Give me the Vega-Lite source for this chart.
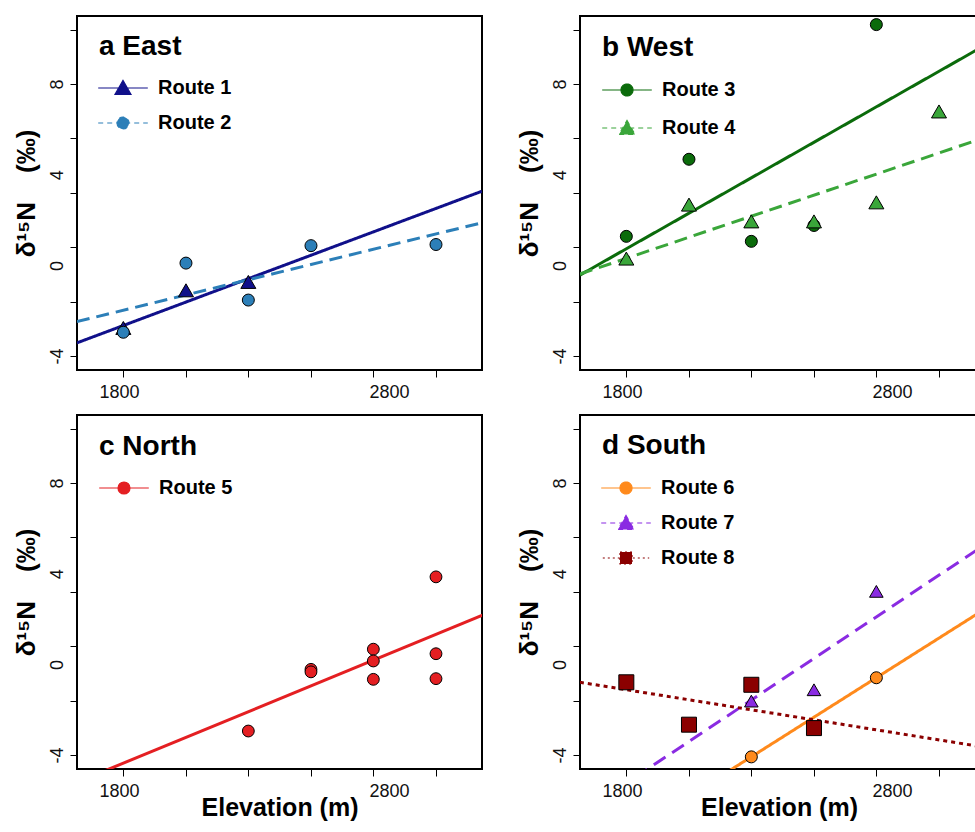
{
  "$schema": "https://vega.github.io/schema/vega-lite/v6.json",
  "padding": {"left": 11, "top": 15, "right": 0, "bottom": 2},
  "datasets": {
    "points": [
      {"panel": "a", "route": "Route 1", "elev": 1816, "d15N": -2.76},
      {"panel": "a", "route": "Route 1", "elev": 2048, "d15N": -1.1},
      {"panel": "a", "route": "Route 1", "elev": 2279, "d15N": -0.73},
      {"panel": "a", "route": "Route 2", "elev": 1816, "d15N": -2.95},
      {"panel": "a", "route": "Route 2", "elev": 2048, "d15N": 0.1},
      {"panel": "a", "route": "Route 2", "elev": 2279, "d15N": -1.53},
      {"panel": "a", "route": "Route 2", "elev": 2511, "d15N": 0.87},
      {"panel": "a", "route": "Route 2", "elev": 2974, "d15N": 0.92},
      {"panel": "b", "route": "Route 3", "elev": 1816, "d15N": 1.28},
      {"panel": "b", "route": "Route 3", "elev": 2048, "d15N": 4.68},
      {"panel": "b", "route": "Route 3", "elev": 2279, "d15N": 1.06},
      {"panel": "b", "route": "Route 3", "elev": 2511, "d15N": 1.76},
      {"panel": "b", "route": "Route 3", "elev": 2742, "d15N": 10.62},
      {"panel": "b", "route": "Route 4", "elev": 1816, "d15N": 0.3},
      {"panel": "b", "route": "Route 4", "elev": 2048, "d15N": 2.68},
      {"panel": "b", "route": "Route 4", "elev": 2279, "d15N": 1.94},
      {"panel": "b", "route": "Route 4", "elev": 2511, "d15N": 1.94},
      {"panel": "b", "route": "Route 4", "elev": 2742, "d15N": 2.78},
      {"panel": "b", "route": "Route 4", "elev": 2974, "d15N": 6.79},
      {"panel": "c", "route": "Route 5", "elev": 2279, "d15N": -2.94},
      {"panel": "c", "route": "Route 5", "elev": 2511, "d15N": -0.22},
      {"panel": "c", "route": "Route 5", "elev": 2511, "d15N": -0.33},
      {"panel": "c", "route": "Route 5", "elev": 2742, "d15N": 0.67},
      {"panel": "c", "route": "Route 5", "elev": 2742, "d15N": 0.15},
      {"panel": "c", "route": "Route 5", "elev": 2742, "d15N": -0.66},
      {"panel": "c", "route": "Route 5", "elev": 2974, "d15N": 3.86},
      {"panel": "c", "route": "Route 5", "elev": 2974, "d15N": 0.47},
      {"panel": "c", "route": "Route 5", "elev": 2974, "d15N": -0.63},
      {"panel": "d", "route": "Route 6", "elev": 2279, "d15N": -4.08},
      {"panel": "d", "route": "Route 6", "elev": 2742, "d15N": -0.59},
      {"panel": "d", "route": "Route 7", "elev": 2048, "d15N": -2.69},
      {"panel": "d", "route": "Route 7", "elev": 2279, "d15N": -1.62},
      {"panel": "d", "route": "Route 7", "elev": 2511, "d15N": -1.12},
      {"panel": "d", "route": "Route 7", "elev": 2742, "d15N": 3.22},
      {"panel": "d", "route": "Route 8", "elev": 1816, "d15N": -0.79},
      {"panel": "d", "route": "Route 8", "elev": 2048, "d15N": -2.66},
      {"panel": "d", "route": "Route 8", "elev": 2279, "d15N": -0.9},
      {"panel": "d", "route": "Route 8", "elev": 2511, "d15N": -2.81}
    ],
    "lines": [
      {"panel": "a", "route": "Route 1", "elev": 1644, "d15N": -3.42},
      {"panel": "a", "route": "Route 1", "elev": 3144, "d15N": 3.27},
      {"panel": "a", "route": "Route 2", "elev": 1644, "d15N": -2.48},
      {"panel": "a", "route": "Route 2", "elev": 3144, "d15N": 1.88},
      {"panel": "b", "route": "Route 3", "elev": 1644, "d15N": -0.43},
      {"panel": "b", "route": "Route 3", "elev": 3122, "d15N": 9.56},
      {"panel": "b", "route": "Route 4", "elev": 1644, "d15N": -0.38},
      {"panel": "b", "route": "Route 4", "elev": 3122, "d15N": 5.55},
      {"panel": "c", "route": "Route 5", "elev": 1644, "d15N": -5.2},
      {"panel": "c", "route": "Route 5", "elev": 3147, "d15N": 2.17},
      {"panel": "d", "route": "Route 6", "elev": 2150, "d15N": -5.05},
      {"panel": "d", "route": "Route 6", "elev": 3120, "d15N": 2.26},
      {"panel": "d", "route": "Route 7", "elev": 1850, "d15N": -4.97},
      {"panel": "d", "route": "Route 7", "elev": 3120, "d15N": 5.09},
      {"panel": "d", "route": "Route 8", "elev": 1644, "d15N": -0.79},
      {"panel": "d", "route": "Route 8", "elev": 3120, "d15N": -3.61}
    ]
  },
  "columns": 2,
  "spacing": {"row": 12, "column": 31},
  "resolve": {
    "scale": {"x": "independent", "y": "independent", "color": "independent", "fill": "independent", "stroke": "independent", "shape": "independent", "strokeDash": "independent", "size": "independent"},
    "axis": {"x": "independent", "y": "independent"}
  },
  "concat": [
    {
      "width": 405, "height": 354,
      "title": {"text": "a East", "anchor": "start", "frame": "group", "offset": -67, "dx": 22, "fontSize": 28, "fontWeight": "bold", "color": "black", "baseline": "alphabetic"},
      "resolve": {"scale": {"shape": "independent", "strokeDash": "independent", "size": "independent", "fill": "independent", "stroke": "independent", "color": "independent"}},
      "encoding": {
        "x": {"field": "elev", "type": "quantitative", "scale": {"domain": [1644.4, 3144.4], "nice": false, "zero": false},
              "axis": {"title": null, "values": [1800, 1816, 2048, 2279, 2511, 2742, 2800, 2974], "labelExpr": "datum.value == 1800 ? '1800' : datum.value == 2800 ? '2800' : ''", "tickOpacity": {"condition": {"test": "datum.value == 1800 || datum.value == 2800", "value": 0}, "value": 1}}},
        "y": {"field": "d15N", "type": "quantitative", "scale": {"domain": [-4.615, 11.0], "nice": false, "zero": false},
              "axis": {"title": "δ¹⁵N\u00a0\u00a0\u00a0\u00a0(‰)", "values": [-4, -1.6, 0, 0.8, 3.2, 4, 5.6, 8, 10.4], "labelExpr": "datum.value == -4 ? '-4' : datum.value == 0 ? '0' : datum.value == 4 ? '4' : datum.value == 8 ? '8' : ''", "tickOpacity": {"condition": {"test": "datum.value == 0 || datum.value == 4", "value": 0}, "value": 1}}}
      },
      "layer": [
        {
          "data": {"name": "lines"},
          "transform": [{"filter": "datum.panel == 'a'"}],
          "mark": {"type": "line", "clip": true, "strokeWidth": 3},
          "encoding": {
            "color": {"field": "route", "type": "nominal", "scale": {"domain": ["Route 1", "Route 2"], "range": ["#10108a", "#2c7fb8"]}, "legend": null},
            "strokeDash": {"field": "route", "type": "nominal", "scale": {"domain": ["Route 1", "Route 2"], "range": [[1, 0], [13, 7]]}, "legend": null}
          }
        },
        {
          "data": {"name": "points"},
          "transform": [{"filter": "datum.panel == 'a'"}],
          "mark": {"type": "point", "filled": true, "stroke": "black", "strokeWidth": 1, "opacity": 1},
          "encoding": {
            "color": {"field": "route", "type": "nominal", "scale": {"domain": ["Route 1", "Route 2"], "range": ["#10108a", "#2c7fb8"]}, "legend": null},
            "shape": {"field": "route", "type": "nominal", "scale": {"domain": ["Route 1", "Route 2"], "range": ["triangle-up", "circle"]}, "legend": null},
            "size": {"field": "route", "type": "nominal", "scale": {"domain": ["Route 1", "Route 2"], "range": [225, 144]}, "legend": null}
          }
        },
        {
          "data": {"name": "points"},
          "transform": [{"filter": "false"}],
          "mark": {"type": "point", "filled": true, "strokeWidth": 1.2, "size": 256, "opacity": 1},
          "encoding": {
            "fill": {"field": "route", "type": "nominal", "scale": {"domain": ["Route 1", "Route 2"], "range": ["#10108a", "#2c7fb8"]},
              "legend": {"orient": "none", "legendX": 36, "legendY": 62, "title": null, "padding": 0, "symbolSize": 256, "symbolStrokeWidth": 1.2, "symbolOpacity": 1, "labelOffset": 25, "rowPadding": 15}},
            "stroke": {"field": "route", "type": "nominal", "scale": {"domain": ["Route 1", "Route 2"], "range": ["#10108a", "#2c7fb8"]},
              "legend": {"orient": "none", "legendX": 36, "legendY": 62, "title": null, "padding": 0, "symbolSize": 256, "symbolStrokeWidth": 1.2, "symbolOpacity": 1, "labelOffset": 25, "rowPadding": 15}},
            "shape": {"field": "route", "type": "nominal", "scale": {"domain": ["Route 1", "Route 2"], "range": ["M-3.1,0H3.1M0,-0.95L1,0.8L-1,0.8Z", "M-3.1,0H3.1M-0.75,0A0.75,0.75,0,1,0,0.75,0A0.75,0.75,0,1,0,-0.75,0Z"]},
              "legend": {"orient": "none", "legendX": 36, "legendY": 62, "title": null, "padding": 0, "symbolSize": 256, "symbolStrokeWidth": 1.2, "symbolOpacity": 1, "labelOffset": 25, "rowPadding": 15}},
            "strokeDash": {"field": "route", "type": "nominal", "scale": {"domain": ["Route 1", "Route 2"], "range": [[1, 0], [5, 4]]},
              "legend": {"orient": "none", "legendX": 36, "legendY": 62, "title": null, "padding": 0, "symbolSize": 256, "symbolStrokeWidth": 1.2, "symbolOpacity": 1, "labelOffset": 25, "rowPadding": 15}}
          }
        }
      ]
    },
    {
      "width": 398, "height": 354,
      "title": {"text": "b West", "anchor": "start", "frame": "group", "offset": -68, "dx": 22, "fontSize": 28, "fontWeight": "bold", "color": "black", "baseline": "alphabetic"},
      "resolve": {"scale": {"shape": "independent", "strokeDash": "independent", "size": "independent", "fill": "independent", "stroke": "independent", "color": "independent"}},
      "encoding": {
        "x": {"field": "elev", "type": "quantitative", "scale": {"domain": [1644.4, 3118.5], "nice": false, "zero": false},
              "axis": {"title": null, "values": [1800, 1816, 2048, 2279, 2511, 2742, 2800, 2974], "labelExpr": "datum.value == 1800 ? '1800' : datum.value == 2800 ? '2800' : ''", "tickOpacity": {"condition": {"test": "datum.value == 1800 || datum.value == 2800", "value": 0}, "value": 1}}},
        "y": {"field": "d15N", "type": "quantitative", "scale": {"domain": [-4.615, 11.0], "nice": false, "zero": false},
              "axis": {"title": "δ¹⁵N\u00a0\u00a0\u00a0\u00a0(‰)", "values": [-4, -1.6, 0, 0.8, 3.2, 4, 5.6, 8, 10.4], "labelExpr": "datum.value == -4 ? '-4' : datum.value == 0 ? '0' : datum.value == 4 ? '4' : datum.value == 8 ? '8' : ''", "tickOpacity": {"condition": {"test": "datum.value == 0 || datum.value == 4", "value": 0}, "value": 1}}}
      },
      "layer": [
        {
          "data": {"name": "lines"},
          "transform": [{"filter": "datum.panel == 'b'"}],
          "mark": {"type": "line", "clip": true, "strokeWidth": 3},
          "encoding": {
            "color": {"field": "route", "type": "nominal", "scale": {"domain": ["Route 3", "Route 4"], "range": ["#0b6b0b", "#3aa63a"]}, "legend": null},
            "strokeDash": {"field": "route", "type": "nominal", "scale": {"domain": ["Route 3", "Route 4"], "range": [[1, 0], [13, 7]]}, "legend": null}
          }
        },
        {
          "data": {"name": "points"},
          "transform": [{"filter": "datum.panel == 'b'"}],
          "mark": {"type": "point", "filled": true, "stroke": "black", "strokeWidth": 1, "opacity": 1},
          "encoding": {
            "color": {"field": "route", "type": "nominal", "scale": {"domain": ["Route 3", "Route 4"], "range": ["#0b6b0b", "#3aa63a"]}, "legend": null},
            "shape": {"field": "route", "type": "nominal", "scale": {"domain": ["Route 3", "Route 4"], "range": ["circle", "triangle-up"]}, "legend": null},
            "size": {"field": "route", "type": "nominal", "scale": {"domain": ["Route 3", "Route 4"], "range": [144, 225]}, "legend": null}
          }
        },
        {
          "data": {"name": "points"},
          "transform": [{"filter": "false"}],
          "mark": {"type": "point", "filled": true, "strokeWidth": 1.2, "size": 256, "opacity": 1},
          "encoding": {
            "fill": {"field": "route", "type": "nominal", "scale": {"domain": ["Route 3", "Route 4"], "range": ["#0b6b0b", "#3aa63a"]},
              "legend": {"orient": "none", "legendX": 37, "legendY": 64, "title": null, "padding": 0, "symbolSize": 256, "symbolStrokeWidth": 1.2, "symbolOpacity": 1, "labelOffset": 25, "rowPadding": 18}},
            "stroke": {"field": "route", "type": "nominal", "scale": {"domain": ["Route 3", "Route 4"], "range": ["#0b6b0b", "#3aa63a"]},
              "legend": {"orient": "none", "legendX": 37, "legendY": 64, "title": null, "padding": 0, "symbolSize": 256, "symbolStrokeWidth": 1.2, "symbolOpacity": 1, "labelOffset": 25, "rowPadding": 18}},
            "shape": {"field": "route", "type": "nominal", "scale": {"domain": ["Route 3", "Route 4"], "range": ["M-3.1,0H3.1M-0.75,0A0.75,0.75,0,1,0,0.75,0A0.75,0.75,0,1,0,-0.75,0Z", "M-3.1,0H3.1M0,-0.95L1,0.8L-1,0.8Z"]},
              "legend": {"orient": "none", "legendX": 37, "legendY": 64, "title": null, "padding": 0, "symbolSize": 256, "symbolStrokeWidth": 1.2, "symbolOpacity": 1, "labelOffset": 25, "rowPadding": 18}},
            "strokeDash": {"field": "route", "type": "nominal", "scale": {"domain": ["Route 3", "Route 4"], "range": [[1, 0], [5, 4]]},
              "legend": {"orient": "none", "legendX": 37, "legendY": 64, "title": null, "padding": 0, "symbolSize": 256, "symbolStrokeWidth": 1.2, "symbolOpacity": 1, "labelOffset": 25, "rowPadding": 18}}
          }
        }
      ]
    },
    {
      "width": 405, "height": 354,
      "title": {"text": "c North", "anchor": "start", "frame": "group", "offset": -68, "dx": 22, "fontSize": 28, "fontWeight": "bold", "color": "black", "baseline": "alphabetic"},
      "resolve": {"scale": {"shape": "independent", "strokeDash": "independent", "size": "independent", "fill": "independent", "stroke": "independent", "color": "independent"}},
      "encoding": {
        "x": {"field": "elev", "type": "quantitative", "scale": {"domain": [1644.4, 3144.4], "nice": false, "zero": false},
              "axis": {"title": "Elevation (m)", "values": [1800, 1816, 2048, 2279, 2511, 2742, 2800, 2974], "labelExpr": "datum.value == 1800 ? '1800' : datum.value == 2800 ? '2800' : ''", "tickOpacity": {"condition": {"test": "datum.value == 1800 || datum.value == 2800", "value": 0}, "value": 1}}},
        "y": {"field": "d15N", "type": "quantitative", "scale": {"domain": [-4.615, 11.0], "nice": false, "zero": false},
              "axis": {"title": "δ¹⁵N\u00a0\u00a0\u00a0\u00a0(‰)", "values": [-4, -1.6, 0, 0.8, 3.2, 4, 5.6, 8, 10.4], "labelExpr": "datum.value == -4 ? '-4' : datum.value == 0 ? '0' : datum.value == 4 ? '4' : datum.value == 8 ? '8' : ''", "tickOpacity": {"condition": {"test": "datum.value == 0 || datum.value == 4", "value": 0}, "value": 1}}}
      },
      "layer": [
        {
          "data": {"name": "lines"},
          "transform": [{"filter": "datum.panel == 'c'"}],
          "mark": {"type": "line", "clip": true, "strokeWidth": 3},
          "encoding": {
            "color": {"field": "route", "type": "nominal", "scale": {"domain": ["Route 5"], "range": ["#e41f22"]}, "legend": null}
          }
        },
        {
          "data": {"name": "points"},
          "transform": [{"filter": "datum.panel == 'c'"}],
          "mark": {"type": "point", "filled": true, "stroke": "black", "strokeWidth": 1, "opacity": 1, "shape": "circle", "size": 140},
          "encoding": {
            "color": {"field": "route", "type": "nominal", "scale": {"domain": ["Route 5"], "range": ["#e41f22"]}, "legend": null}
          }
        },
        {
          "data": {"name": "points"},
          "transform": [{"filter": "false"}],
          "mark": {"type": "point", "filled": true, "strokeWidth": 1.2, "size": 256, "opacity": 1},
          "encoding": {
            "fill": {"field": "route", "type": "nominal", "scale": {"domain": ["Route 5"], "range": ["#e41f22"]},
              "legend": {"orient": "none", "legendX": 37, "legendY": 63, "title": null, "padding": 0, "symbolSize": 256, "symbolStrokeWidth": 1.2, "symbolOpacity": 1, "labelOffset": 25, "rowPadding": 15}},
            "stroke": {"field": "route", "type": "nominal", "scale": {"domain": ["Route 5"], "range": ["#e41f22"]},
              "legend": {"orient": "none", "legendX": 37, "legendY": 63, "title": null, "padding": 0, "symbolSize": 256, "symbolStrokeWidth": 1.2, "symbolOpacity": 1, "labelOffset": 25, "rowPadding": 15}},
            "shape": {"field": "route", "type": "nominal", "scale": {"domain": ["Route 5"], "range": ["M-3.1,0H3.1M-0.75,0A0.75,0.75,0,1,0,0.75,0A0.75,0.75,0,1,0,-0.75,0Z"]},
              "legend": {"orient": "none", "legendX": 37, "legendY": 63, "title": null, "padding": 0, "symbolSize": 256, "symbolStrokeWidth": 1.2, "symbolOpacity": 1, "labelOffset": 25, "rowPadding": 15}}
          }
        }
      ]
    },
    {
      "width": 398, "height": 354,
      "title": {"text": "d South", "anchor": "start", "frame": "group", "offset": -67, "dx": 22, "fontSize": 28, "fontWeight": "bold", "color": "black", "baseline": "alphabetic"},
      "resolve": {"scale": {"shape": "independent", "strokeDash": "independent", "size": "independent", "fill": "independent", "stroke": "independent", "color": "independent"}},
      "encoding": {
        "x": {"field": "elev", "type": "quantitative", "scale": {"domain": [1644.4, 3118.5], "nice": false, "zero": false},
              "axis": {"title": "Elevation (m)", "values": [1800, 1816, 2048, 2279, 2511, 2742, 2800, 2974], "labelExpr": "datum.value == 1800 ? '1800' : datum.value == 2800 ? '2800' : ''", "tickOpacity": {"condition": {"test": "datum.value == 1800 || datum.value == 2800", "value": 0}, "value": 1}}},
        "y": {"field": "d15N", "type": "quantitative", "scale": {"domain": [-4.615, 11.0], "nice": false, "zero": false},
              "axis": {"title": "δ¹⁵N\u00a0\u00a0\u00a0\u00a0(‰)", "values": [-4, -1.6, 0, 0.8, 3.2, 4, 5.6, 8, 10.4], "labelExpr": "datum.value == -4 ? '-4' : datum.value == 0 ? '0' : datum.value == 4 ? '4' : datum.value == 8 ? '8' : ''", "tickOpacity": {"condition": {"test": "datum.value == 0 || datum.value == 4", "value": 0}, "value": 1}}}
      },
      "layer": [
        {
          "data": {"name": "lines"},
          "transform": [{"filter": "datum.panel == 'd'"}],
          "mark": {"type": "line", "clip": true, "strokeWidth": 3},
          "encoding": {
            "color": {"field": "route", "type": "nominal", "scale": {"domain": ["Route 6", "Route 7", "Route 8"], "range": ["#ff8a1c", "#8a2be2", "#8b0000"]}, "legend": null},
            "strokeDash": {"field": "route", "type": "nominal", "scale": {"domain": ["Route 6", "Route 7", "Route 8"], "range": [[1, 0], [14, 8], [4, 4]]}, "legend": null}
          }
        },
        {
          "data": {"name": "points"},
          "transform": [{"filter": "datum.panel == 'd'"}],
          "mark": {"type": "point", "filled": true, "stroke": "black", "strokeWidth": 1, "opacity": 1},
          "encoding": {
            "color": {"field": "route", "type": "nominal", "scale": {"domain": ["Route 6", "Route 7", "Route 8"], "range": ["#ff8a1c", "#8a2be2", "#8b0000"]}, "legend": null},
            "shape": {"field": "route", "type": "nominal", "scale": {"domain": ["Route 6", "Route 7", "Route 8"], "range": ["circle", "triangle-up", "square"]}, "legend": null},
            "size": {"field": "route", "type": "nominal", "scale": {"domain": ["Route 6", "Route 7", "Route 8"], "range": [144, 225, 121]}, "legend": null}
          }
        },
        {
          "data": {"name": "points"},
          "transform": [{"filter": "false"}],
          "mark": {"type": "point", "filled": true, "strokeWidth": 1.2, "size": 256, "opacity": 1},
          "encoding": {
            "fill": {"field": "route", "type": "nominal", "scale": {"domain": ["Route 6", "Route 7", "Route 8"], "range": ["#ff8a1c", "#8a2be2", "#8b0000"]},
              "legend": {"orient": "none", "legendX": 36, "legendY": 63, "title": null, "padding": 0, "symbolSize": 256, "symbolStrokeWidth": 1.2, "symbolOpacity": 1, "labelOffset": 25, "rowPadding": 15}},
            "stroke": {"field": "route", "type": "nominal", "scale": {"domain": ["Route 6", "Route 7", "Route 8"], "range": ["#ff8a1c", "#8a2be2", "#8b0000"]},
              "legend": {"orient": "none", "legendX": 36, "legendY": 63, "title": null, "padding": 0, "symbolSize": 256, "symbolStrokeWidth": 1.2, "symbolOpacity": 1, "labelOffset": 25, "rowPadding": 15}},
            "shape": {"field": "route", "type": "nominal", "scale": {"domain": ["Route 6", "Route 7", "Route 8"], "range": ["M-3.1,0H3.1M-0.75,0A0.75,0.75,0,1,0,0.75,0A0.75,0.75,0,1,0,-0.75,0Z", "M-3.1,0H3.1M0,-0.95L1,0.8L-1,0.8Z", "M-2.9,0H2.9M-0.75,-0.75H0.75V0.75H-0.75Z"]},
              "legend": {"orient": "none", "legendX": 36, "legendY": 63, "title": null, "padding": 0, "symbolSize": 256, "symbolStrokeWidth": 1.2, "symbolOpacity": 1, "labelOffset": 25, "rowPadding": 15}},
            "strokeDash": {"field": "route", "type": "nominal", "scale": {"domain": ["Route 6", "Route 7", "Route 8"], "range": [[1, 0], [5, 4], [2, 3]]},
              "legend": {"orient": "none", "legendX": 36, "legendY": 63, "title": null, "padding": 0, "symbolSize": 256, "symbolStrokeWidth": 1.2, "symbolOpacity": 1, "labelOffset": 25, "rowPadding": 15}}
          }
        }
      ]
    }
  ],
  "config": {
    "font": "Liberation Sans",
    "view": {"stroke": "black", "strokeWidth": 2},
    "axis": {"domain": false, "grid": false, "tickColor": "black", "tickWidth": 1, "tickSize": 7, "labelColor": "#111111", "labelFontSize": 18, "labelFont": "Liberation Sans", "labelOverlap": false, "labelFlush": false, "labelBound": false, "titleColor": "black", "titleFont": "Liberation Sans", "titleFontWeight": "bold"},
    "axisX": {"labelPadding": 6, "titleFontSize": 25, "titlePadding": -5},
    "axisY": {"labelAngle": 270, "labelAlign": "center", "labelBaseline": "bottom", "labelPadding": 4, "titleFontSize": 26, "titlePadding": 9},
    "legend": {"labelFontSize": 20, "labelFontWeight": "bold", "labelColor": "black", "labelFont": "Liberation Sans"}
  }
}
